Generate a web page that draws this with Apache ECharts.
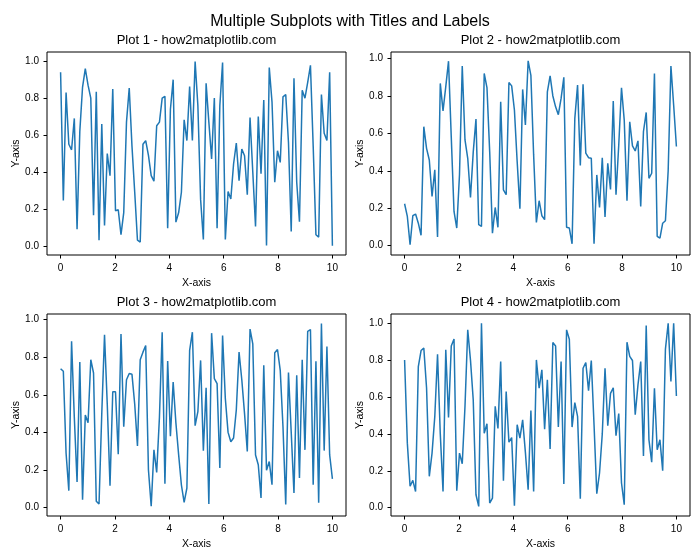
<!DOCTYPE html>
<html>
<head>
<meta charset="utf-8">
<script src="https://cdn.jsdelivr.net/npm/echarts@6/dist/echarts.min.js"></script>
<style>
  html, body { margin: 0; padding: 0; background: #fff; }
  #chart { width: 700px; height: 560px; }
</style>
</head>
<body>
<div id="chart"></div>
<script>
// values (100 points each, x = 0..10)
const plot1 = [0.94, 0.245, 0.83, 0.55, 0.52, 0.69, 0.09, 0.62, 0.86, 0.96,
  0.87, 0.80, 0.165, 0.835, 0.03, 0.66, 0.11, 0.50, 0.38, 0.85,
  0.19, 0.195, 0.06, 0.18, 0.67, 0.855, 0.54, 0.29, 0.03, 0.02,
  0.55, 0.57, 0.49, 0.38, 0.35, 0.65, 0.67, 0.80, 0.81, 0.095,
  0.74, 0.90, 0.128, 0.18, 0.29, 0.683, 0.57, 0.863, 0.57, 0.998,
  0.76, 0.25, 0.034, 0.88, 0.67, 0.47, 0.80, 0.095, 0.76, 0.993,
  0.034, 0.294, 0.254, 0.443, 0.557, 0.353, 0.524, 0.488, 0.277, 0.695,
  0.40, 0.105, 0.70, 0.39, 0.79, 0.002, 0.966, 0.78, 0.344, 0.515,
  0.452, 0.807, 0.82, 0.56, 0.077, 0.908, 0.344, 0.13, 0.843, 0.80,
  0.885, 0.978, 0.54, 0.06, 0.047, 0.82, 0.61, 0.57, 0.94, 0.0]

const plot2 = [0.224, 0.156, 0.005, 0.16, 0.169, 0.12, 0.055, 0.636, 0.52, 0.458,
  0.263, 0.405, 0.046, 0.867, 0.72, 0.85, 0.986, 0.58, 0.183, 0.094,
  0.38, 0.96, 0.565, 0.467, 0.258, 0.5, 0.677, 0.112, 0.103, 0.92,
  0.845, 0.5, 0.067, 0.204, 0.098, 0.769, 0.298, 0.272, 0.872, 0.854,
  0.725, 0.45, 0.197, 0.835, 0.645, 0.988, 0.91, 0.485, 0.124, 0.24,
  0.16, 0.139, 0.822, 0.907, 0.80, 0.742, 0.70, 0.787, 0.90, 0.098,
  0.094, 0.01, 0.68, 0.858, 0.428, 0.863, 0.494, 0.47, 0.467, 0.01,
  0.378, 0.204, 0.47, 0.153, 0.44, 0.30, 0.773, 0.272, 0.538, 0.844,
  0.671, 0.24, 0.662, 0.533, 0.506, 0.56, 0.21, 0.61, 0.712, 0.36,
  0.387, 0.92, 0.05, 0.04, 0.12, 0.133, 0.40, 0.96, 0.75, 0.53]

const plot3 = [0.739, 0.725, 0.289, 0.09, 0.885, 0.48, 0.136, 0.774, 0.042, 0.492,
  0.451, 0.787, 0.716, 0.034, 0.019, 0.5, 0.919, 0.55, 0.116, 0.616,
  0.616, 0.284, 0.924, 0.43, 0.68, 0.713, 0.709, 0.55, 0.328, 0.787,
  0.827, 0.862, 0.2, 0.007, 0.307, 0.187, 0.48, 0.933, 0.127, 0.78,
  0.38, 0.668, 0.45, 0.28, 0.12, 0.028, 0.104, 0.836, 0.933, 0.436,
  0.51, 0.783, 0.303, 0.638, 0.019, 0.928, 0.686, 0.66, 0.21, 0.915,
  0.58, 0.4, 0.35, 0.37, 0.52, 0.827, 0.68, 0.5, 0.298, 0.95,
  0.871, 0.28, 0.228, 0.051, 0.757, 0.198, 0.245, 0.122, 0.824, 0.841,
  0.73, 0.43, 0.016, 0.718, 0.4, 0.078, 0.704, 0.157, 0.787, 0.307,
  0.938, 0.947, 0.122, 0.778, 0.025, 0.98, 0.303, 0.857, 0.28, 0.153]

const plot4 = [0.801, 0.35, 0.116, 0.148, 0.088, 0.765, 0.852, 0.865, 0.65, 0.17,
  0.296, 0.495, 0.832, 0.4, 0.088, 0.856, 0.489, 0.877, 0.915, 0.092,
  0.296, 0.238, 0.55, 0.964, 0.80, 0.585, 0.07, 0.007, 1.0, 0.404,
  0.455, 0.025, 0.052, 0.55, 0.43, 0.792, 0.146, 0.63, 0.355, 0.38,
  0.011, 0.45, 0.377, 0.476, 0.3, 0.097, 0.527, 0.088, 0.801, 0.648,
  0.747, 0.426, 0.693, 0.318, 0.895, 0.877, 0.437, 0.792, 0.128, 0.964,
  0.913, 0.437, 0.57, 0.495, 0.049, 0.756, 0.787, 0.635, 0.798, 0.45,
  0.076, 0.188, 0.4, 0.756, 0.444, 0.62, 0.65, 0.39, 0.51, 0.134,
  0.016, 0.897, 0.82, 0.798, 0.504, 0.666, 0.792, 0.28, 0.987, 0.368,
  0.247, 0.648, 0.314, 0.368, 0.2, 0.86, 1.0, 0.684, 1.0, 0.606]

const titles = [
  'Plot 1 - how2matplotlib.com',
  'Plot 2 - how2matplotlib.com',
  'Plot 3 - how2matplotlib.com',
  'Plot 4 - how2matplotlib.com'
]

const xTicks = [0, 2, 4, 6, 8, 10]
const yTicks = [0, 0.2, 0.4, 0.6, 0.8, 1.0]

const font = 'Liberation Sans'

// subplot boxes in pixels, and y limits like matplotlib's auto margins
const boxes = [
  { left: 47, top: 52, width: 299, height: 203, ymin: -0.05, ymax: 1.05 },
  { left: 391, top: 52, width: 299, height: 203, ymin: -0.05, ymax: 1.035 },
  { left: 47, top: 314, width: 299, height: 202, ymin: -0.045, ymax: 1.03 },
  { left: 391, top: 314, width: 299, height: 202, ymin: -0.045, ymax: 1.05 }
]

const allSeries = [plot1, plot2, plot3, plot4]

const chart = echarts.init(document.getElementById('chart'))

const option = {
  backgroundColor: '#fff',
  animation: false,

  title: [
    {
      text: 'Multiple Subplots with Titles and Labels',
      left: 'center',
      top: 9,
      textStyle: { fontFamily: font, fontSize: 16, fontWeight: 'normal', color: '#000' }
    }
  ].concat(boxes.map((b, i) => ({
    text: titles[i],
    left: b.left + b.width / 2,
    top: b.top - 18,
    textAlign: 'center',
    padding: 0,
    textStyle: { fontFamily: font, fontSize: 13, fontWeight: 'normal', color: '#000' }
  }))),

  grid: boxes.map(b => ({
    left: b.left,
    top: b.top,
    width: b.width,
    height: b.height,
    show: true,
    borderColor: '#000',
    borderWidth: 1,
    backgroundColor: '#fff',
    containLabel: false,
    outerBoundsMode: 'none'
  })),

  xAxis: boxes.map((b, i) => ({
    type: 'value',
    gridIndex: i,
    min: -0.5,
    max: 10.5,
    name: 'X-axis',
    nameLocation: 'middle',
    nameGap: 23,
    nameTextStyle: { fontFamily: font, fontSize: 10.5, color: '#000' },
    axisLine: { show: false, onZero: false },
    splitLine: { show: false },
    axisTick: {
      show: true,
      length: 3.5,
      lineStyle: { color: '#000' },
      customValues: xTicks
    },
    axisLabel: {
      fontFamily: font,
      fontSize: 10,
      color: '#000',
      margin: 8,
      customValues: xTicks
    }
  })),

  yAxis: boxes.map((b, i) => ({
    type: 'value',
    gridIndex: i,
    min: b.ymin,
    max: b.ymax,
    name: 'Y-axis',
    nameLocation: 'middle',
    nameGap: 25,
    nameTextStyle: { fontFamily: font, fontSize: 10.5, color: '#000' },
    axisLine: { show: false, onZero: false },
    splitLine: { show: false },
    axisTick: {
      show: true,
      length: 3.5,
      lineStyle: { color: '#000' },
      customValues: yTicks
    },
    axisLabel: {
      fontFamily: font,
      fontSize: 10,
      color: '#000',
      margin: 8,
      customValues: yTicks,
      formatter: v => v.toFixed(1)
    }
  })),

  series: allSeries.map((vals, i) => ({
    type: 'line',
    xAxisIndex: i,
    yAxisIndex: i,
    showSymbol: false,
    symbol: 'none',
    data: vals.map((v, k) => [k * 10 / (vals.length - 1), v]),
    lineStyle: { color: '#1f77b4', width: 1.5 }
  }))
}

chart.setOption(option)
</script>
</body>
</html>
